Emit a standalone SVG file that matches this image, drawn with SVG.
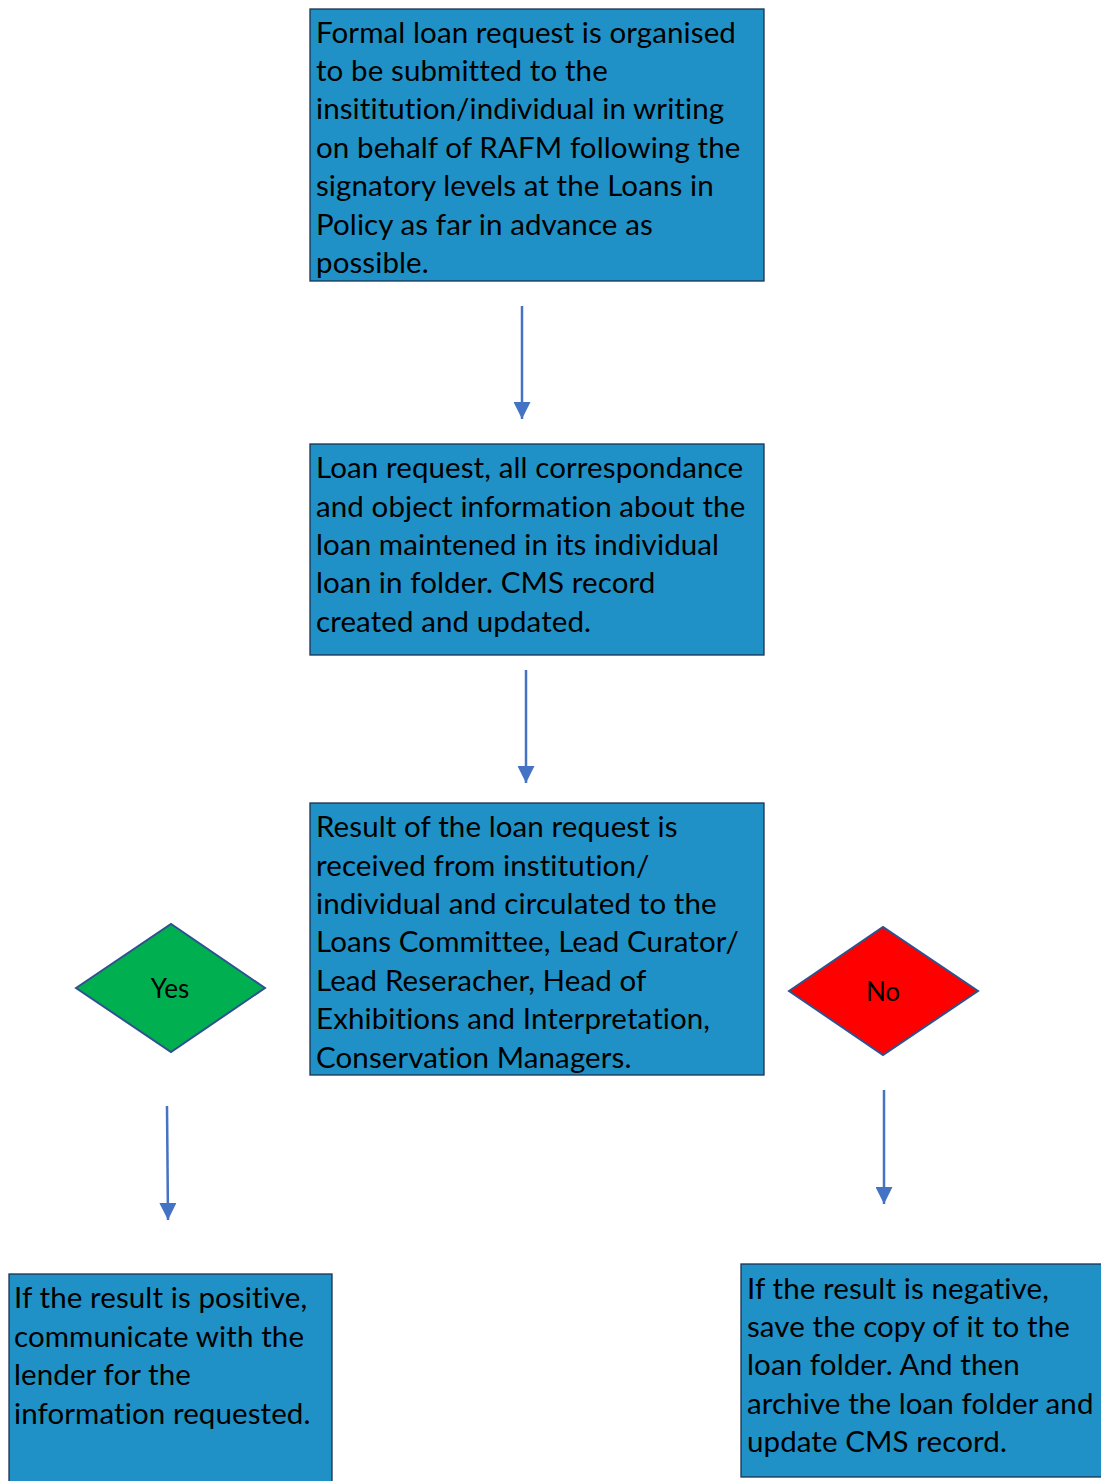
<svg xmlns="http://www.w3.org/2000/svg" width="1101" height="1481" viewBox="0 0 1101 1481">
<style>
.box{fill:#1f91c6;stroke:#1c3150;stroke-width:1.3}
.dia{stroke:#2f528f;stroke-width:2}
.t{font-family:Lato,"Open Sans","Liberation Sans",sans-serif;font-size:29.5px;letter-spacing:0.1px;fill:#000}
.d{font-family:Lato,"Open Sans","Liberation Sans",sans-serif;font-size:26px;fill:#000;text-anchor:middle;dominant-baseline:central}
.c{stroke:#4472c4;stroke-width:2.5;fill:none;marker-end:url(#ah)}
</style>
<defs>
<marker id="ah" viewBox="0 0 10 10" refX="10" refY="5" markerUnits="userSpaceOnUse" markerWidth="18" markerHeight="17" orient="auto">
<path d="M0,0 L10,5 L0,10 z" fill="#4472c4"/>
</marker>
</defs>
<rect width="1101" height="1481" fill="#fff"/>
<g id="connectors">
<line class="c" x1="522" y1="306" x2="522" y2="419"/>
<line class="c" x1="526" y1="670" x2="526" y2="783"/>
<line class="c" x1="167" y1="1106" x2="168" y2="1220"/>
<line class="c" x1="884" y1="1090" x2="884" y2="1204"/>
</g>
<g id="n1">
<rect class="box" x="310" y="9" width="454" height="272"/>
<text class="t"><tspan x="316" y="43">Formal loan request is organised</tspan><tspan x="316" y="81">to be submitted to the</tspan><tspan x="316" y="119">insititution/individual in writing</tspan><tspan x="316" y="158">on behalf of RAFM following the</tspan><tspan x="316" y="196">signatory levels at the Loans in</tspan><tspan x="316" y="235">Policy as far in advance as</tspan><tspan x="316" y="273">possible.</tspan></text>
</g>
<g id="n2">
<rect class="box" x="310" y="444" width="454" height="211"/>
<text class="t"><tspan x="316" y="478">Loan request, all correspondance</tspan><tspan x="316" y="517">and object information about the</tspan><tspan x="316" y="555">loan maintened in its individual</tspan><tspan x="316" y="593">loan in folder. CMS record</tspan><tspan x="316" y="632">created and updated.</tspan></text>
</g>
<g id="n3">
<rect class="box" x="310" y="803" width="454" height="272"/>
<text class="t"><tspan x="316" y="837">Result of the loan request is</tspan><tspan x="316" y="876">received from institution/</tspan><tspan x="316" y="914">individual and circulated to the</tspan><tspan x="316" y="952">Loans Committee, Lead Curator/</tspan><tspan x="316" y="991">Lead Reseracher, Head of</tspan><tspan x="316" y="1029">Exhibitions and Interpretation,</tspan><tspan x="316" y="1068">Conservation Managers.</tspan></text>
</g>
<g id="yes">
<polygon class="dia" fill="#00b050" points="76,988 171,924 265,988 171,1052"/>
<text class="d" x="170" y="988">Yes</text>
</g>
<g id="no">
<polygon class="dia" fill="#ff0000" points="789,991 883,927 978,991 883,1055"/>
<text class="d" x="883" y="991">No</text>
</g>
<g id="n4">
<rect class="box" x="9" y="1274" width="323" height="215"/>
<text class="t"><tspan x="14" y="1308">If the result is positive,</tspan><tspan x="14" y="1347">communicate with the</tspan><tspan x="14" y="1385">lender for the</tspan><tspan x="14" y="1424">information requested.</tspan></text>
</g>
<g id="n5">
<rect class="box" x="741" y="1264" width="370" height="213"/>
<text class="t"><tspan x="747" y="1299">If the result is negative,</tspan><tspan x="747" y="1337">save the copy of it to the</tspan><tspan x="747" y="1375">loan folder. And then</tspan><tspan x="747" y="1414">archive the loan folder and</tspan><tspan x="747" y="1452">update CMS record.</tspan></text>
</g>
</svg>
